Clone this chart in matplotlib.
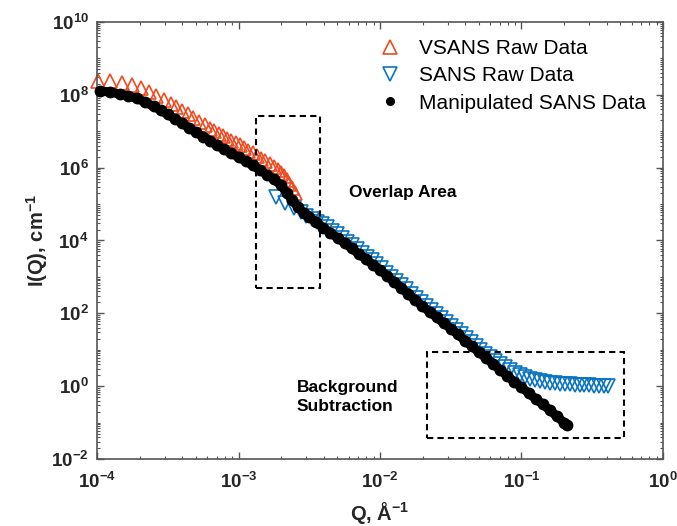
import matplotlib
matplotlib.use('Agg')
import matplotlib.pyplot as plt
import numpy as np
from matplotlib.patches import Rectangle
from matplotlib.ticker import FixedLocator, LogLocator, FuncFormatter, NullFormatter

plt.rcParams['font.family'] = ['Liberation Sans', 'DejaVu Sans']
plt.rcParams['mathtext.fontset'] = 'custom'
plt.rcParams['mathtext.rm'] = 'Liberation Sans'
plt.rcParams['mathtext.bf'] = 'Liberation Sans:bold'
plt.rcParams['mathtext.it'] = 'Liberation Sans:italic'

# values, kept as log10(Q) and log10(I)
vsans_logq = [-3.99, -3.905, -3.82, -3.75, -3.69, -3.63, -3.58, -3.53, -3.48, -3.44,
              -3.40, -3.36, -3.32, -3.28, -3.24, -3.20, -3.17, -3.14, -3.11, -3.08,
              -3.05, -3.02, -2.99, -2.96, -2.93, -2.90, -2.87, -2.84, -2.81, -2.78,
              -2.75, -2.72, -2.70, -2.68, -2.66, -2.64, -2.62, -2.60]
vsans_logi = [8.38, 8.38, 8.32, 8.26, 8.18, 8.07, 7.97, 7.86, 7.75, 7.66,
              7.56, 7.46, 7.36, 7.26, 7.17, 7.07, 7.00, 6.93, 6.86, 6.79,
              6.73, 6.67, 6.61, 6.54, 6.47, 6.40, 6.33, 6.25, 6.18, 6.10,
              6.02, 5.93, 5.85, 5.76, 5.66, 5.55, 5.43, 5.30]

sans_logq = [-2.735, -2.67, -2.61, -2.56, -2.52, -2.48, -2.445, -2.41, -2.375, -2.34,
             -2.305, -2.27, -2.235, -2.20, -2.165, -2.13, -2.095, -2.06, -2.025, -1.99,
             -1.955, -1.92, -1.885, -1.85, -1.815, -1.78, -1.745, -1.71, -1.675, -1.64,
             -1.605, -1.57, -1.535, -1.50, -1.465, -1.43, -1.395, -1.36, -1.325, -1.29,
             -1.255, -1.22, -1.185, -1.15, -1.115, -1.08, -1.045, -1.01, -0.975, -0.94,
             -0.905, -0.87, -0.835, -0.80, -0.765, -0.73, -0.695, -0.66, -0.625, -0.59,
             -0.555, -0.52, -0.485, -0.45, -0.42, -0.39]
sans_logi = [5.19, 5.03, 4.88, 4.77, 4.68, 4.59, 4.52, 4.44, 4.36, 4.27,
             4.17, 4.07, 3.97, 3.87, 3.77, 3.66, 3.56, 3.46, 3.35, 3.24,
             3.12, 3.01, 2.89, 2.78, 2.66, 2.54, 2.42, 2.31, 2.20, 2.09,
             1.98, 1.87, 1.76, 1.65, 1.54, 1.43, 1.31, 1.20, 1.09, 0.99,
             0.89, 0.79, 0.69, 0.60, 0.52, 0.44, 0.37, 0.31, 0.26, 0.21,
             0.17, 0.14, 0.12, 0.10, 0.08, 0.07, 0.06, 0.05, 0.04, 0.03,
             0.02, 0.02, 0.01, 0.01, 0.00, 0.00]

manip_logq = [-3.98, -3.91, -3.84, -3.78, -3.72, -3.66, -3.60, -3.55, -3.50, -3.45,
              -3.40, -3.35, -3.30, -3.25, -3.20, -3.15, -3.10, -3.05, -3.00, -2.95,
              -2.90, -2.85, -2.80, -2.75, -2.70, -2.66, -2.62, -2.58, -2.54, -2.50,
              -2.45, -2.40, -2.35, -2.30, -2.25, -2.20, -2.15, -2.10, -2.05, -2.00,
              -1.95, -1.90, -1.85, -1.80, -1.75, -1.70, -1.65, -1.60, -1.55, -1.50,
              -1.45, -1.40, -1.35, -1.30, -1.25, -1.20, -1.15, -1.10, -1.05, -1.00,
              -0.95, -0.90, -0.85, -0.80, -0.75, -0.70, -0.68]
manip_logi = [8.10, 8.08, 8.02, 7.97, 7.90, 7.80, 7.68, 7.58, 7.46, 7.34,
              7.22, 7.10, 6.97, 6.85, 6.73, 6.61, 6.50, 6.39, 6.29, 6.18,
              6.06, 5.94, 5.81, 5.68, 5.52, 5.30, 5.10, 4.92, 4.76, 4.64,
              4.50, 4.35, 4.21, 4.07, 3.93, 3.78, 3.63, 3.49, 3.34, 3.19,
              3.03, 2.86, 2.70, 2.53, 2.36, 2.20, 2.04, 1.89, 1.73, 1.58,
              1.42, 1.25, 1.09, 0.93, 0.77, 0.61, 0.44, 0.28, 0.12, -0.03,
              -0.19, -0.35, -0.50, -0.66, -0.83, -1.00, -1.07]

red = '#EE4B22'
blue = '#0A74C2'

fig = plt.figure(figsize=(6.77, 5.26), dpi=100)
ax = fig.add_axes([0.1433, 0.1274, 0.836, 0.8308])

ax.plot(10 ** np.array(vsans_logq), 10 ** np.array(vsans_logi), '^', ms=10, mfc='none',
        mec=red, mew=1.2, label='VSANS Raw Data', clip_on=False)
ax.plot(10 ** np.array(sans_logq), 10 ** np.array(sans_logi), 'v', ms=9.5, mfc='none',
        mec=blue, mew=1.2, label='SANS Raw Data', clip_on=False)
qm = 10 ** np.array(manip_logq)
im = 10 ** np.array(manip_logi)
ax.plot(qm, im, '-', color='k', lw=6.5, solid_capstyle='round', zorder=3)
ax.plot(qm, im, 'o', ms=7.5, color='k', label='Manipulated SANS Data', zorder=4, clip_on=False)

ax.set_xscale('log')
ax.set_yscale('log')
ax.set_xlim(1e-4, 1)
ax.set_ylim(1e-2, 1e10)

ax.xaxis.set_major_locator(FixedLocator([10.0 ** k for k in range(-4, 1)]))
ax.yaxis.set_major_locator(FixedLocator([10.0 ** k for k in range(-2, 11, 2)]))
ax.xaxis.set_minor_locator(LogLocator(base=10, subs=np.arange(1, 10), numticks=100))
ax.yaxis.set_minor_locator(LogLocator(base=10, subs=np.arange(1, 10), numticks=100))
fmt = FuncFormatter(lambda v, p: r'$\mathbf{10^{%d}}$' % int(round(np.log10(v))))
ax.xaxis.set_major_formatter(fmt)
ax.yaxis.set_major_formatter(fmt)
ax.xaxis.set_minor_formatter(NullFormatter())
ax.yaxis.set_minor_formatter(NullFormatter())

ax.tick_params(which='both', direction='in', top=True, right=True, color='#555555',
               labelsize=13.5, labelcolor='#262626')
ax.tick_params(which='major', length=5, width=1)
ax.tick_params(which='minor', length=2.5, width=0.8)
ax.tick_params(axis='x', pad=9)
ax.tick_params(axis='y', pad=6)
for s in ax.spines.values():
    s.set_color('#555555')
    s.set_linewidth(1.2)

ax.set_xlabel(r'Q, Å$^{\mathbf{-1}}$', fontsize=14.5, fontweight='bold', labelpad=6,
              color='#262626')
ax.set_ylabel(r'I(Q), cm$^{\mathbf{-1}}$', fontsize=14.5, fontweight='bold', labelpad=1,
              color='#262626')

# dashed boxes
ax.add_patch(Rectangle((1.33e-3, 490), 3.77e-3 - 1.33e-3, 2.6e7 - 490, fill=False,
                       ec='k', lw=1.5, ls=(0, (3, 2)), zorder=5))
ax.add_patch(Rectangle((0.0215, 0.037), 0.53 - 0.0215, 8.5 - 0.037, fill=False,
                       ec='k', lw=1.5, ls=(0, (3, 2)), zorder=5))

ax.text(6.04e-3, 2.1e5, 'Overlap Area', fontsize=12.5, fontweight='bold', va='center', ha='left')
ax.text(2.59e-3, 0.5, 'Background\nSubtraction', fontsize=12.5, fontweight='bold',
        va='center', ha='left', linespacing=1.35)

leg = ax.legend(loc='upper left', bbox_to_anchor=(0.485, 0.98), frameon=False, fontsize=15,
                handlelength=1.0, handletextpad=0.9, labelspacing=0.4, borderaxespad=0)
leg.legend_handles[2].set_markersize(5.5)

fig.savefig('out.png', dpi=100)
